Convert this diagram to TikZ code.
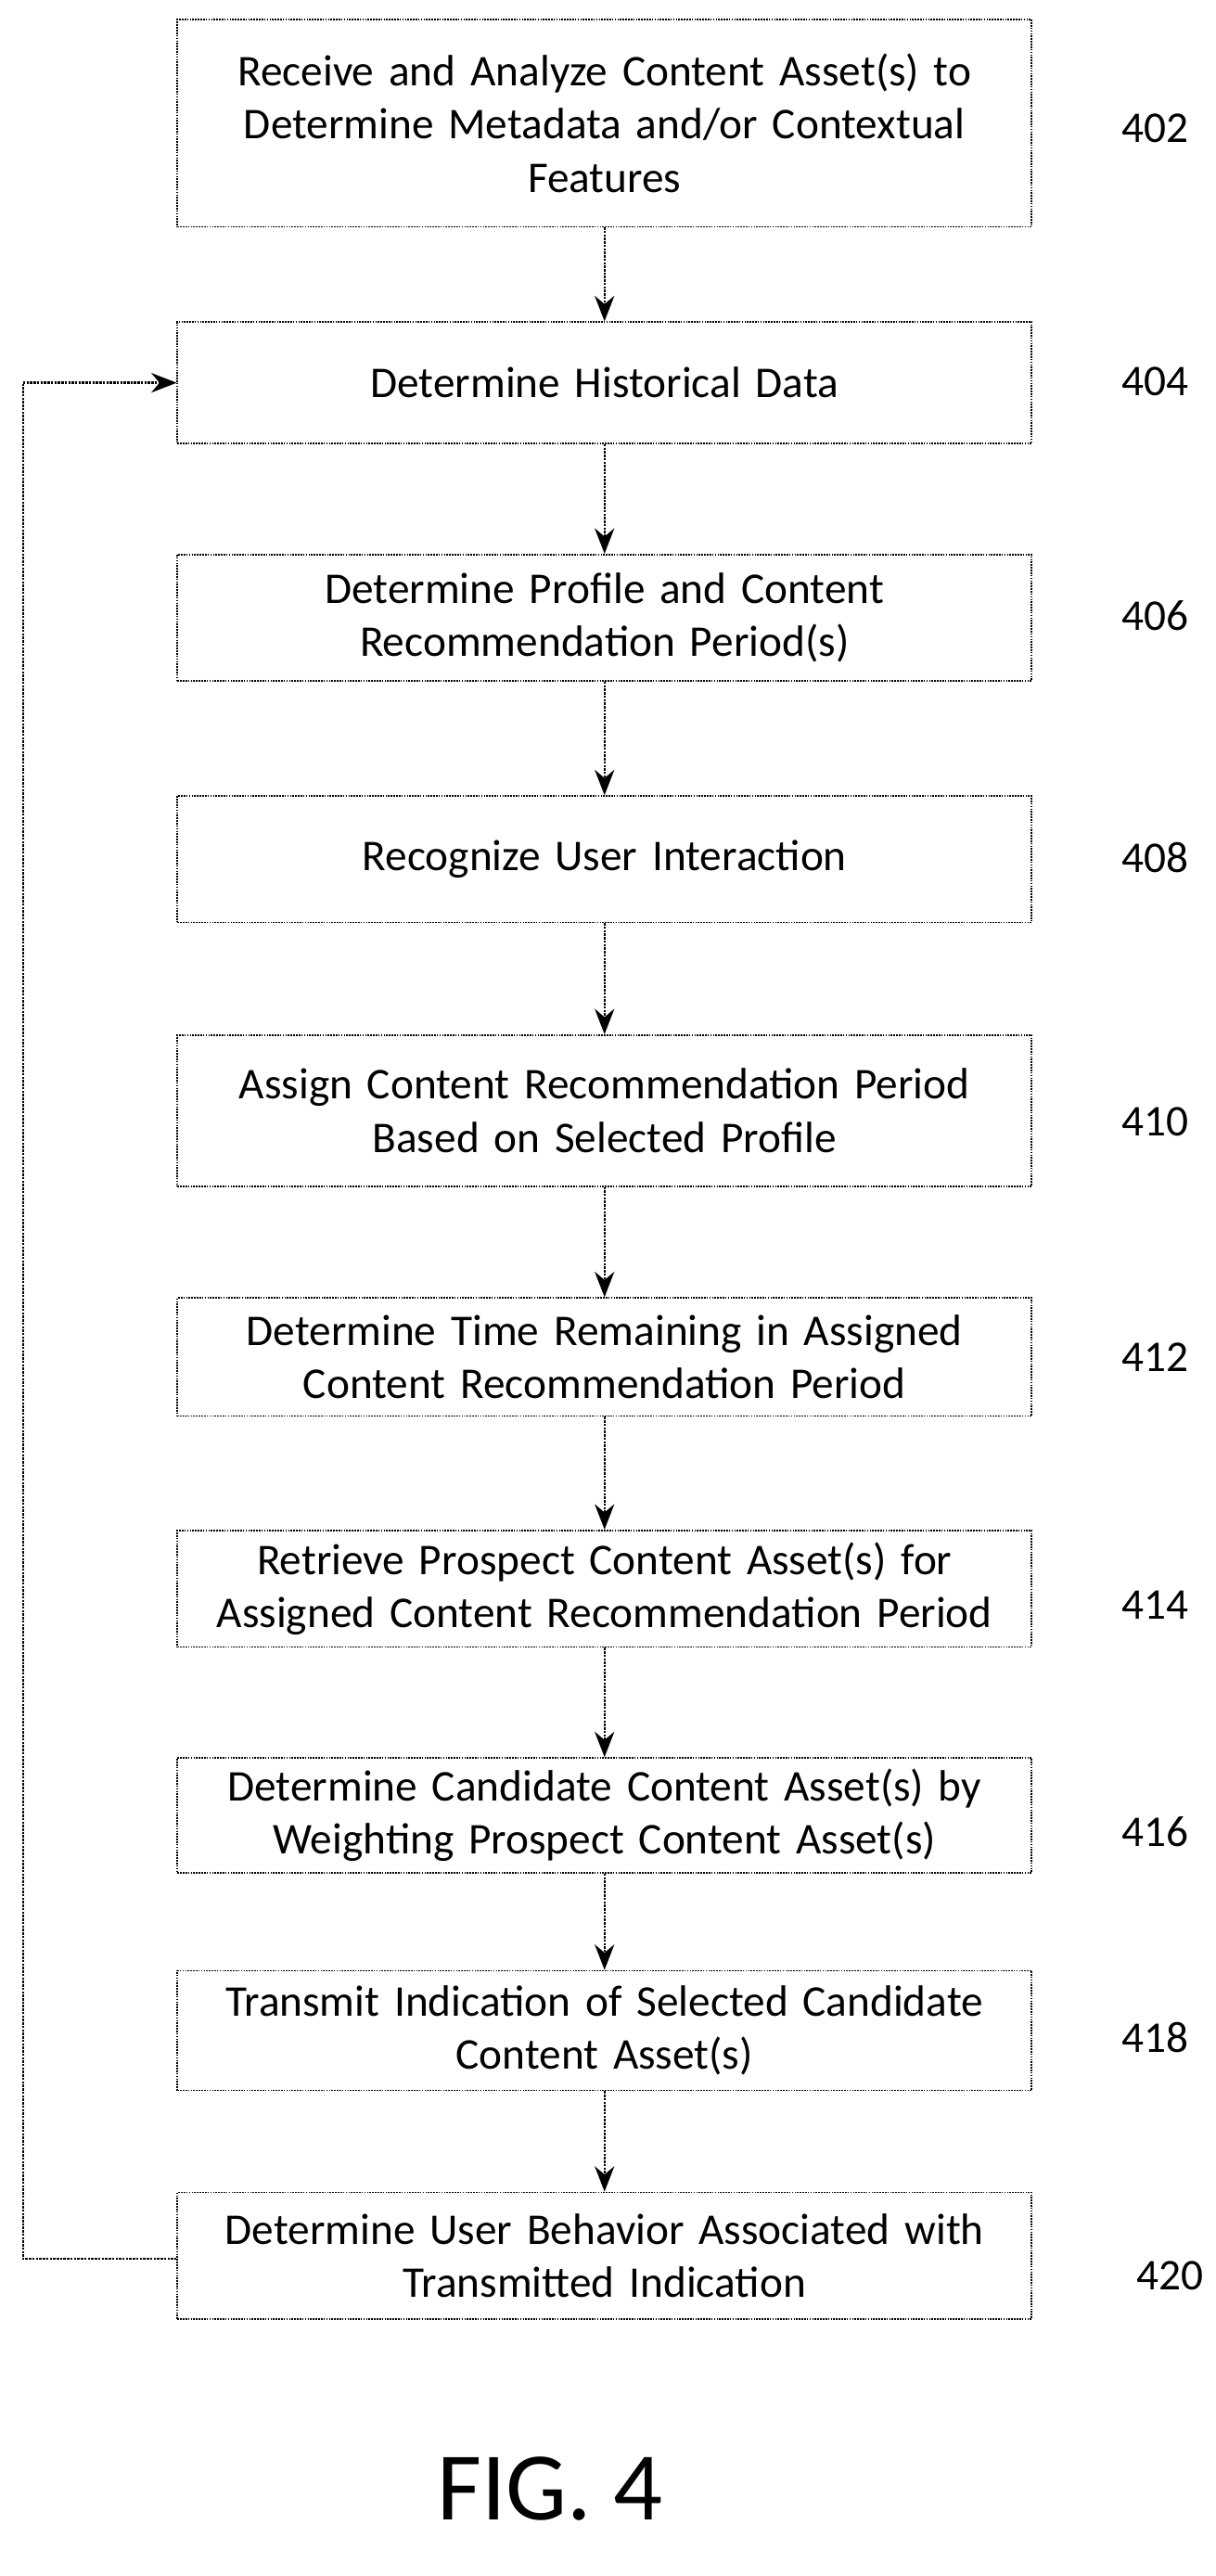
\documentclass[tikz,border=0pt]{standalone}
\usepackage{fontspec}
\setmainfont{Carlito}
\usetikzlibrary{arrows.meta,positioning}
\tikzset{
  step/.style={
    rectangle,
    draw=black,
    densely dotted,
    line width=1.3pt,
    minimum width=26cm,
    minimum height=#1,
    align=center,
    text width=25.5cm,
    font=\fontsize{38}{46}\selectfont,
  },
  steplabel/.style={font=\fontsize{38}{46}\selectfont},
  flow/.style={-{Stealth[length=22pt,width=17pt]}, densely dotted, line width=2pt, black},
}
\begin{document}
\begin{tikzpicture}[x=0.05cm, y=-0.05cm]
    \useasboundingbox (0,0) rectangle (740,1568);
    \node[step={6.3cm}] (s402) at (368,75) {Receive and Analyze Content Asset(s) to\\Determine Metadata and/or Contextual\\Features};
    \node[step={3.7cm}] (s404) at (368,233) {Determine Historical Data};
    \node[step={3.85cm}] (s406) at (368,376) {Determine Profile and Content\\Recommendation Period(s)};
    \node[step={3.85cm}] (s408) at (368,523) {Recognize User Interaction};
    \node[step={4.6cm}] (s410) at (368,676) {Assign Content Recommendation Period\\Based on Selected Profile};
    \node[step={3.6cm}] (s412) at (368,826) {Determine Time Remaining in Assigned\\Content Recommendation Period};
    \node[step={3.55cm}] (s414) at (368,967) {Retrieve Prospect Content Asset(s) for\\Assigned Content Recommendation Period};
    \node[step={3.5cm}] (s416) at (368,1105) {Determine Candidate Content Asset(s) by\\Weighting Prospect Content Asset(s)};
    \node[step={3.65cm}] (s418) at (368,1236) {Transmit Indication of Selected Candidate\\Content Asset(s)};
    \node[step={3.85cm}] (s420) at (368,1373) {Determine User Behavior Associated with\\Transmitted Indication};

    %% Reference numerals
    \foreach \n/\y in {402/78, 404/232, 406/375, 408/522, 410/683, 412/826, 414/977, 416/1115, 418/1240}
      \node[steplabel] (l\n) at (703,\y) {\n};
    \node[steplabel] (l420) at (712,1385) {420};
    \node[font=\fontsize{84}{94}\selectfont] (fig) at (335,1515) {FIG. 4};

    %% Flow
    \foreach \a/\b in {402/404, 404/406, 406/408, 408/410, 410/412, 412/414, 414/416, 416/418, 418/420}
      \draw[flow] (s\a) -- (s\b);
    \coordinate (back) at (14,1375);
    \draw[flow] (s420.west |- back) -- (back) |- (s404.west);
\end{tikzpicture}
\end{document}
